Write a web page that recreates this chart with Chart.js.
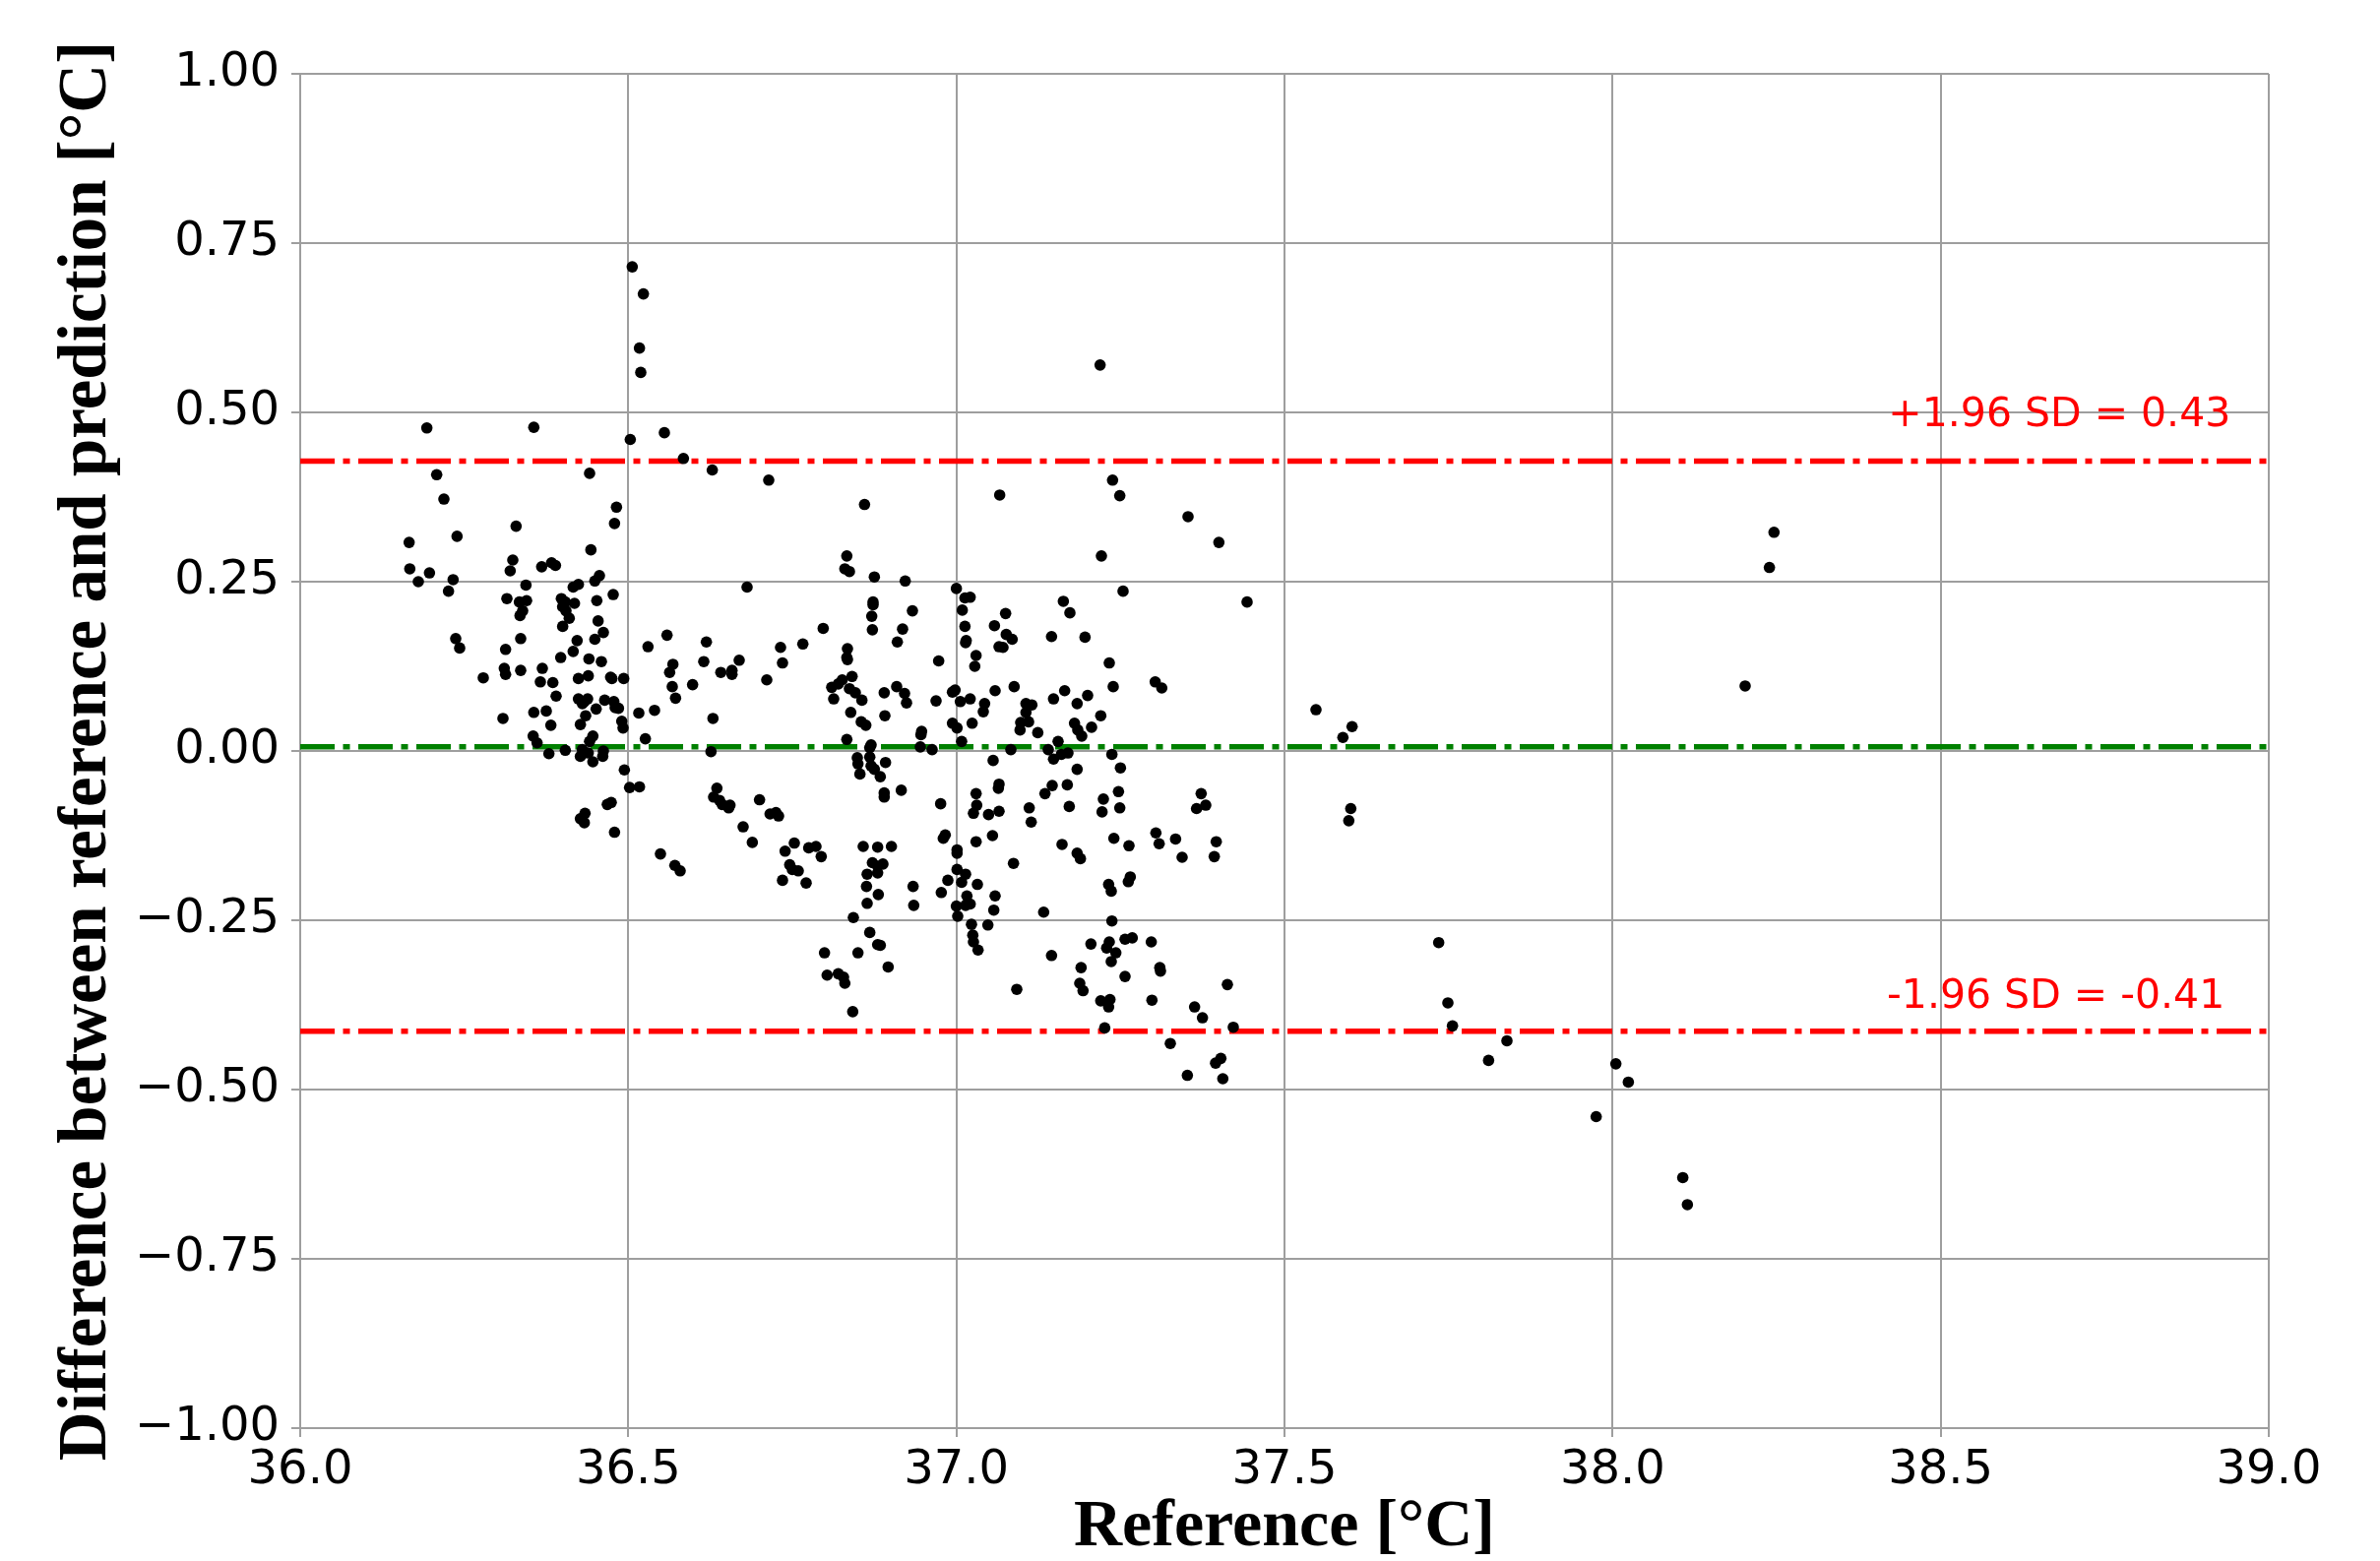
<!DOCTYPE html>
<html>
<head>
<meta charset="utf-8">
<script src="https://cdn.jsdelivr.net/npm/chart.js@4.4.1/dist/chart.umd.min.js"></script>
<style>
  html, body { margin: 0; padding: 0; background: #ffffff; }
  #wrap { width: 2418px; height: 1586px; }
</style>
</head>
<body>
<div id="wrap"><canvas id="c" width="2418" height="1586"></canvas></div>
<script>
// ---- Data ----
const referenceTemps = [
  36.506,36.523,36.517,36.519,
  36.193,36.356,36.503,36.555,36.584,36.208,36.441,36.219,36.482,36.329,36.479,36.166,36.239,36.443,36.324,36.320,
  36.368,36.383,36.389,36.167,36.197,36.180,36.233,36.226,36.449,36.456,36.344,36.416,36.424,36.477,36.315,36.334,
  36.345,36.339,36.335,36.398,36.404,36.418,36.400,36.405,36.410,36.400,36.452,36.454,36.462,36.449,36.422,36.416,
  36.440,36.459,36.397,36.237,36.243,36.313,36.336,36.311,36.313,36.336,36.279,36.369,36.366,36.385,36.424,36.439,
  36.473,36.475,36.493,36.390,36.424,36.433,36.438,36.430,36.464,36.478,36.480,36.485,36.451,36.356,36.375,36.309,
  36.435,36.382,36.427,36.490,36.492,36.516,36.540,36.530,36.559,36.568,36.563,36.567,36.572,
  36.355,36.361,36.379,36.404,36.427,36.430,36.439,36.441,36.446,36.446,36.461,36.462,36.526,36.494,36.502,36.517,
  36.468,36.474,36.427,36.434,36.433,36.479,36.549,36.571,36.579,
  36.628,36.714,36.860,36.833,36.830,36.837,36.875,36.922,36.681,37.000,37.013,37.021,37.009,36.873,36.873,36.871,
  36.872,36.933,36.918,36.910,36.797,37.013,37.015,37.014,37.030,37.028,36.619,36.615,36.598,36.641,36.658,36.658,
  36.669,36.711,36.732,36.735,36.766,36.834,36.833,36.834,36.841,36.810,36.820,36.826,36.813,36.837,36.846,36.856,
  36.839,36.855,36.862,36.890,36.891,36.909,36.921,36.924,36.947,36.969,36.973,36.994,36.998,37.006,37.021,36.994,
  37.001,37.024,36.629,
  36.626,36.833,36.870,36.868,36.946,36.945,36.963,37.008,36.849,36.850,36.868,36.870,36.875,36.884,36.892,36.853,
  36.890,36.890,36.916,36.635,36.630,36.639,36.643,36.655,36.653,36.700,36.675,36.689,36.716,36.725,36.729,36.753,
  36.739,36.775,36.786,36.794,36.746,36.750,36.759,36.735,36.771,36.858,36.880,36.901,36.872,36.880,36.888,36.880,
  36.864,36.863,36.881,36.864,36.843,36.868,36.880,36.884,36.799,36.850,36.896,36.803,36.820,36.828,36.830,36.842,
  36.934,36.935,36.976,36.983,36.980,36.977,36.987,37.001,37.001,37.001,37.014,37.008,37.000,37.014,37.021,37.016,
  37.002,37.030,37.031,37.026,37.030,37.032,37.023,37.025,37.026,37.033,
  37.066,37.238,37.249,37.221,37.353,37.400,37.254,37.443,37.163,37.173,37.075,37.058,37.076,37.085,37.065,37.071,
  37.145,37.196,37.233,37.239,37.303,37.313,37.059,37.088,37.043,37.041,37.106,37.115,37.106,37.098,37.110,37.097,
  37.124,37.148,37.165,37.184,37.200,37.220,37.180,37.185,37.206,37.219,
  37.083,37.155,37.191,37.140,37.148,37.160,37.170,37.237,37.056,37.184,37.250,37.065,37.064,37.146,37.169,37.135,
  37.049,37.065,37.111,37.114,37.172,37.224,37.222,37.247,37.249,37.055,37.161,37.184,37.189,37.240,37.263,37.087,
  37.059,37.057,37.133,37.048,37.232,37.236,37.262,37.265,37.237,37.233,37.229,37.243,37.236,37.257,37.268,37.205,
  37.145,37.297,37.310,37.311,37.190,37.257,37.188,37.193,37.092,37.220,37.234,37.232,37.226,37.298,37.304,37.309,
  37.334,37.344,37.373,37.366,37.380,37.396,37.393,37.363,37.375,37.413,37.422,37.326,37.403,37.395,37.352,37.406,
  37.548,37.589,37.603,37.601,37.598,37.735,37.749,37.756,37.811,37.839,37.975,38.005,38.024,38.107,38.114,38.202,
  38.239,38.246
];
const differences = [
  0.715,0.675,0.595,0.559,
  0.477,0.478,0.460,0.470,0.432,0.408,0.410,0.372,0.360,0.332,0.336,0.308,0.317,0.297,0.282,0.266,
  0.272,0.278,0.274,0.269,0.263,0.250,0.253,0.236,0.251,0.259,0.245,0.242,0.246,0.231,0.225,0.220,
  0.222,0.207,0.200,0.225,0.220,0.218,0.213,0.207,0.196,0.184,0.222,0.192,0.175,0.165,0.163,0.147,
  0.136,0.132,0.138,0.166,0.152,0.150,0.166,0.122,0.113,0.119,0.108,0.122,0.102,0.101,0.107,0.111,
  0.109,0.107,0.107,0.081,0.077,0.073,0.077,0.070,0.075,0.073,0.064,0.063,0.062,0.057,0.059,0.048,
  0.052,0.038,0.039,0.044,0.034,0.056,0.060,0.154,0.171,0.128,0.116,0.095,0.078,
  0.022,0.012,-0.004,0.001,-0.008,0.002,-0.003,0.014,0.022,-0.016,-0.008,0.000,0.018,-0.028,-0.054,-0.053,
  -0.079,-0.076,-0.100,-0.092,-0.106,-0.120,-0.152,-0.169,-0.177,
  0.415,0.400,0.364,0.288,0.269,0.265,0.257,0.251,0.242,0.240,0.226,0.227,0.208,0.220,0.216,0.199,
  0.179,0.207,0.180,0.161,0.181,0.184,0.163,0.160,0.141,0.125,0.161,0.132,0.098,0.116,0.119,0.113,
  0.134,0.105,0.153,0.130,0.158,0.151,0.138,0.135,0.110,0.094,0.099,0.105,0.077,0.092,0.086,0.075,
  0.057,0.043,0.038,0.086,0.052,0.095,0.085,0.071,0.029,0.074,0.133,0.087,0.090,0.073,0.077,0.041,
  0.034,0.041,0.048,
  -0.001,0.017,0.009,0.005,0.024,0.006,0.002,0.014,-0.010,-0.019,-0.009,-0.022,-0.027,-0.038,-0.017,-0.034,
  -0.062,-0.068,-0.058,-0.055,-0.068,-0.073,-0.079,-0.080,-0.084,-0.072,-0.112,-0.135,-0.093,-0.091,-0.096,-0.136,
  -0.148,-0.143,-0.141,-0.156,-0.168,-0.175,-0.177,-0.191,-0.195,-0.141,-0.142,-0.141,-0.165,-0.170,-0.167,-0.180,
  -0.182,-0.200,-0.212,-0.225,-0.246,-0.268,-0.286,-0.287,-0.298,-0.298,-0.319,-0.331,-0.329,-0.334,-0.343,-0.385,
  -0.200,-0.228,-0.078,-0.124,-0.129,-0.209,-0.191,-0.146,-0.151,-0.175,-0.182,-0.194,-0.229,-0.228,-0.226,-0.214,
  -0.244,-0.063,-0.080,-0.092,-0.134,-0.197,-0.256,-0.272,-0.282,-0.294,
  0.378,0.400,0.377,0.288,0.346,0.308,0.236,0.220,0.221,0.204,0.203,0.185,0.172,0.165,0.154,0.153,
  0.169,0.168,0.130,0.095,0.102,0.093,0.089,0.095,0.070,0.058,0.070,0.068,0.057,0.042,0.043,0.031,
  0.027,0.077,0.089,0.070,0.082,0.052,0.041,0.031,0.035,0.570,
  0.002,0.014,0.022,0.002,-0.012,-0.005,-0.003,-0.005,-0.014,-0.027,-0.025,-0.049,-0.055,-0.051,-0.050,-0.063,
  -0.094,-0.089,-0.084,-0.105,-0.082,-0.071,-0.090,-0.060,-0.084,-0.125,-0.138,-0.151,-0.159,-0.129,-0.140,-0.166,
  -0.214,-0.235,-0.238,-0.257,-0.197,-0.207,-0.193,-0.186,-0.251,-0.282,-0.291,-0.298,-0.311,-0.278,-0.276,-0.285,
  -0.302,-0.282,-0.320,-0.325,-0.320,-0.333,-0.343,-0.354,-0.352,-0.369,-0.367,-0.378,-0.409,-0.368,-0.121,-0.137,
  -0.130,-0.157,-0.063,-0.085,-0.080,-0.134,-0.156,-0.378,-0.394,-0.345,-0.408,-0.432,-0.454,-0.461,-0.479,-0.484,
  0.061,0.020,0.036,-0.085,-0.103,-0.283,-0.372,-0.406,-0.457,-0.428,-0.540,-0.462,-0.489,-0.630,-0.670,0.096,
  0.271,0.323
];
const meanDiff = 0.006;
const upperLoA = 0.428;
const lowerLoA = -0.414;
const xTickValues = [36.0, 36.5, 37.0, 37.5, 38.0, 38.5, 39.0];
const yTickValues = [-1.0, -0.75, -0.5, -0.25, 0.0, 0.25, 0.5, 0.75, 1.0];
const xTitle = 'Reference [°C]';
const yTitle = 'Difference between reference and prediction [°C]';
const upperText = '+1.96 SD = ' + upperLoA.toFixed(2);
const lowerText = '-1.96 SD = ' + lowerLoA.toFixed(2);

// ---- Build chart ----
const points = referenceTemps.map((x, i) => ({ x: x, y: differences[i] }));
const xMin = xTickValues[0], xMax = xTickValues[xTickValues.length - 1];
const hLine = (v) => [{ x: xMin, y: v }, { x: xMax, y: v }];
const dashDot = [35, 8.5, 7, 8.5];
const GRID = '#9e9e9e';

const sdLabels = {
  id: 'sdLabels',
  afterDatasetsDraw(chart) {
    const { ctx, scales: { x, y } } = chart;
    ctx.save();
    ctx.font = '41px "DejaVu Sans"';
    ctx.fillStyle = '#ff0000';
    ctx.textAlign = 'left';
    ctx.textBaseline = 'alphabetic';
    ctx.fillText(upperText, x.getPixelForValue(38.42), y.getPixelForValue(upperLoA + 0.052));
    ctx.fillText(lowerText, x.getPixelForValue(38.418), y.getPixelForValue(lowerLoA + 0.035));
    ctx.restore();
  }
};

new Chart(document.getElementById('c'), {
  type: 'scatter',
  data: {
    datasets: [
      { type: 'scatter', data: points, backgroundColor: '#000000', borderWidth: 0,
        pointRadius: 5.8, pointHoverRadius: 5.8, order: 1 },
      { type: 'line', data: hLine(upperLoA), borderColor: '#ff0000', borderWidth: 5.5,
        borderDash: dashDot, borderCapStyle: 'butt', pointRadius: 0, fill: false, order: 2 },
      { type: 'line', data: hLine(lowerLoA), borderColor: '#ff0000', borderWidth: 5.5,
        borderDash: dashDot, borderCapStyle: 'butt', pointRadius: 0, fill: false, order: 2 },
      { type: 'line', data: hLine(meanDiff), borderColor: '#008000', borderWidth: 5.5,
        borderDash: dashDot, borderCapStyle: 'butt', pointRadius: 0, fill: false, order: 2 }
    ]
  },
  options: {
    responsive: false,
    animation: false,
    devicePixelRatio: 1,
    layout: { padding: { left: 0, right: 113, top: 75, bottom: 0 } },
    plugins: { legend: { display: false }, tooltip: { enabled: false } },
    scales: {
      x: {
        type: 'linear', min: xMin, max: xMax,
        afterFit: (s) => { s.height = 135; },
        afterBuildTicks: (s) => { s.ticks = xTickValues.map(v => ({ value: v })); },
        ticks: {
          color: '#000000', padding: 6, maxRotation: 0, autoSkip: false,
          font: { family: '"DejaVu Sans"', size: 48 },
          callback: (v) => Number(v).toFixed(1)
        },
        grid: { color: GRID, lineWidth: 2, tickLength: 9, tickColor: GRID, tickWidth: 2 },
        border: { display: true, color: GRID, width: 2 },
        title: {
          display: true, text: xTitle, color: '#000000',
          font: { family: '"Liberation Serif"', size: 68, weight: 'bold', lineHeight: 1 },
          padding: { top: 0, bottom: 0 }
        }
      },
      y: {
        type: 'linear', min: yTickValues[0], max: yTickValues[yTickValues.length - 1],
        afterFit: (s) => { s.width = 305; },
        afterBuildTicks: (s) => { s.ticks = yTickValues.map(v => ({ value: v })); },
        ticks: {
          color: '#000000', padding: 12, autoSkip: false,
          font: { family: '"DejaVu Sans"', size: 48 },
          callback: (v) => (v < 0 ? '\u2212' + Math.abs(v).toFixed(2) : Number(v).toFixed(2))
        },
        grid: { color: GRID, lineWidth: 2, tickLength: 9, tickColor: GRID, tickWidth: 2 },
        border: { display: true, color: GRID, width: 2 },
        title: {
          display: true, text: yTitle, color: '#000000',
          font: { family: '"Liberation Serif"', size: 69, weight: 'bold', lineHeight: 1 },
          padding: { top: 55, bottom: 0 }
        }
      }
    }
  },
  plugins: [sdLabels]
});
</script>
</body>
</html>
